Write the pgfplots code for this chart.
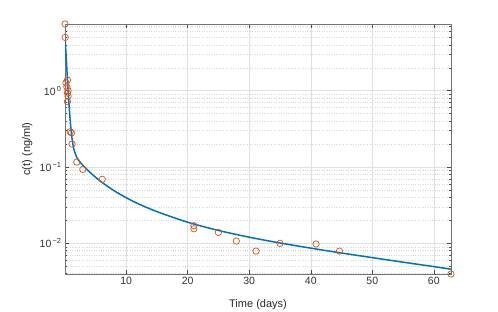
\documentclass[border=0pt]{standalone}
\usepackage{fontspec}
\setmainfont{Liberation Sans}
\usepackage{pgfplots}
\pgfplotsset{compat=1.18}
\definecolor{mblue}{rgb}{0,0.447,0.741}
\definecolor{morange}{rgb}{0.85,0.325,0.098}
\begin{document}
\begin{tikzpicture}[x=1pt,y=1pt]
\useasboundingbox (0,0) rectangle (498,312);
\begin{axis}[
  at={(65pt,38pt)}, anchor=south west, scale only axis,
  width=386pt, height=250pt,
  ymode=log,
  xmin=0.05, xmax=62.8, ymin=0.00396, ymax=7.5,
  xtick={10,20,30,40,50,60},
  ytick={0.01,0.1,1},
  yticklabels={10\textsuperscript{\,−2},10\textsuperscript{\,−1},10\textsuperscript{\,0}},
  minor ytick={0.004,0.005,0.006,0.007,0.008,0.009,0.02,0.03,0.04,0.05,0.06,0.07,0.08,0.09,0.2,0.3,0.4,0.5,0.6,0.7,0.8,0.9,2,3,4,5,6,7},
  grid=both,
  major grid style={draw=black!12, line width=0.5pt},
  minor grid style={draw=black!16, dotted, line width=0.5pt},
  tick align=inside,
  xtick pos=both, ytick pos=both,
  major tick length=3.8pt, minor tick length=2pt,
  every tick/.style={black!70, line width=0.5pt},
  axis line style={black!55, line width=0.6pt},
  tick label style={font=\fontsize{10.5}{12}\selectfont, text=black!80},
  label style={font=\fontsize{11}{13}\selectfont, text=black!85},
  xlabel={Time (days)},
  ylabel={c(t) (ng/ml)},
  xlabel style={at={(axis description cs:0.5,-0.122)}, anchor=center},
  ylabel style={at={(axis description cs:-0.098,0.5)}, anchor=center},
  /pgf/number format/assume math mode=true,
  clip marker paths=false,
]
\addplot[mblue, line width=1.5pt, smooth] coordinates {
(0.1,4.497) (0.2,3.193) (0.3,2.281) (0.4,1.644) (0.5,1.198) (0.6,0.886)
(0.7,0.667) (0.8,0.513) (0.9,0.405) (1.0,0.328) (1.25,0.219) (1.5,0.170)
(2,0.1323) (2.5,0.1158) (3,0.1043) (4,0.0868) (5,0.0737) (6,0.0635)
(8,0.0491) (10,0.0396) (12,0.0329) (15,0.0260) (20,0.0189) (25,0.01474)
(30,0.01202) (35,0.0101) (40,0.00864) (45,0.00746) (50,0.00649)
(55,0.00566) (60,0.00495) (62.8,0.00458)
};
\addplot[only marks, mark=o, mark size=3.2pt, morange, mark options={line width=0.7pt}] coordinates {
(0.05,7.5) (0.08,5.0)
(0.45,1.38) (0.2,1.27) (0.35,1.12) (0.55,1.0) (0.45,0.93) (0.55,0.85) (0.45,0.72)
(0.9,0.29) (1.1,0.28) (1.2,0.2) (1.97,0.116) (2.95,0.093) (6.1,0.069)
(21.0,0.0170) (21.0,0.0155) (24.98,0.0139) (27.9,0.0107) (31.1,0.0079)
(35.0,0.0100) (40.86,0.0098) (44.66,0.0079) (62.8,0.00396)
};
\end{axis}
\end{tikzpicture}
\end{document}
